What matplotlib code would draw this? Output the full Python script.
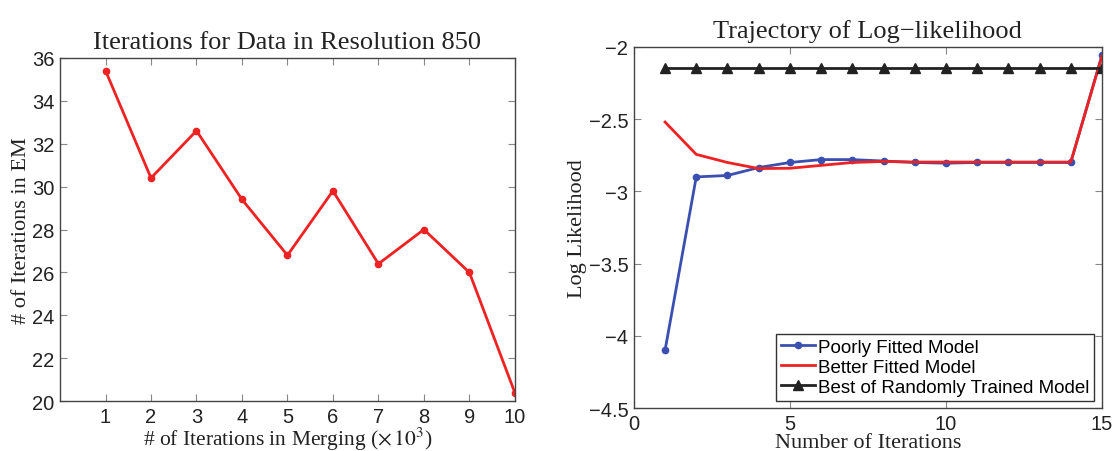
import matplotlib
matplotlib.use("Agg")
import matplotlib.pyplot as plt
import numpy as np

plt.rcParams['mathtext.fontset'] = 'stix'

# left panel data
merge_iters = [1, 2, 3, 4, 5, 6, 7, 8, 9, 10]
em_iters = [35.4, 30.4, 32.6, 29.4, 26.8, 29.8, 26.4, 28.0, 26.0, 20.4]

# right panel data
iters = list(range(1, 16))
poorly = [-4.10, -2.90, -2.89, -2.835, -2.80, -2.78, -2.78, -2.79, -2.80, -2.805,
          -2.80, -2.80, -2.80, -2.80, -2.056]
better = [-2.52, -2.744, -2.80, -2.842, -2.84, -2.82, -2.80, -2.793, -2.797, -2.797,
          -2.797, -2.797, -2.797, -2.797, -2.063]
best_random = [-2.144] * 15

serif = 'Liberation Serif'
sans = 'Liberation Sans'

fig = plt.figure(figsize=(11.12, 4.52), dpi=100)
ax1 = fig.add_axes([0.054, 0.110, 0.409, 0.760])
ax2 = fig.add_axes([0.570, 0.095, 0.421, 0.799])

def style(ax):
    ax.tick_params(direction='in', top=True, right=True, length=5, color='#888888',
                   labelsize=14.5, pad=4)
    for lab in ax.get_xticklabels() + ax.get_yticklabels():
        lab.set_fontfamily(sans)
        lab.set_color('#222222')
    for s in ax.spines.values():
        s.set_color('#444444')
        s.set_linewidth(1.0)

# left
ax1.plot(merge_iters, em_iters, color='#ee2222', lw=2, marker='o', ms=4.5)
ax1.set_xlim(0, 10)
ax1.set_ylim(20, 36)
ax1.set_xticks(merge_iters)
ax1.set_yticks(np.arange(20, 37, 2))
style(ax1)
ax1.set_title('Iterations for Data in Resolution 850', family=serif, fontsize=19,
              color='#222222', pad=7)
ax1.set_xlabel(r'# of Iterations in Merging ($\times\,10^3$)', family=serif,
               fontsize=15.5, color='#222222', labelpad=-1)
ax1.set_ylabel('# of Iterations in EM', family=serif, fontsize=16, color='#222222',
               labelpad=1)

# right
ax2.plot(iters, poorly, color='#3a4fb0', lw=2, marker='o', ms=4.5,
         label='Poorly Fitted Model')
ax2.plot(iters, better, color='#ee2222', lw=2, label='Better Fitted Model')
ax2.plot(iters, best_random, color='#222222', lw=2, marker='^', ms=7,
         label='Best of Randomly Trained Model')
ax2.set_xlim(0, 15)
ax2.set_ylim(-4.5, -2)
ax2.set_xticks([0, 5, 10, 15])
ax2.set_yticks([-4.5, -4, -3.5, -3, -2.5, -2])
ax2.set_yticklabels(['\u22124.5', '\u22124', '\u22123.5', '\u22123', '\u22122.5', '\u22122'])
style(ax2)
ax2.set_title('Trajectory of Log\u2212likelihood', family=serif, fontsize=19,
              color='#222222', pad=7)
ax2.set_xlabel('Number of Iterations', family=serif, fontsize=16, color='#222222',
               labelpad=0)
ax2.set_ylabel('Log Likelihood', family=serif, fontsize=16, color='#222222',
               labelpad=1)
leg = ax2.legend(loc='lower right', prop={'family': sans, 'size': 13.5},
                 fancybox=False, framealpha=1, edgecolor='#333333',
                 handlelength=1.8, handletextpad=0.2, labelspacing=0.15,
                 borderpad=0.25, borderaxespad=0.4)
leg.get_frame().set_linewidth(1.0)

fig.savefig('out.png', dpi=100)
